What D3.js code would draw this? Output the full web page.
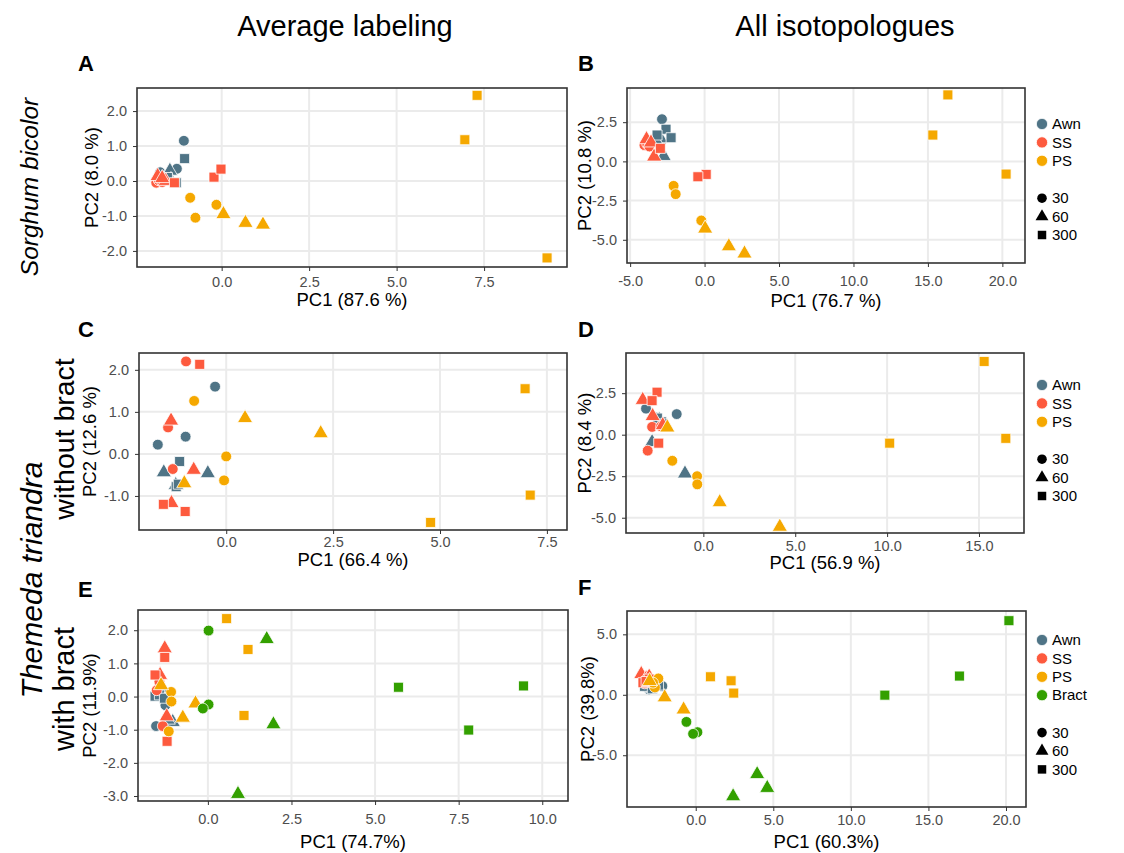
<!DOCTYPE html>
<html>
<head>
<meta charset="utf-8">
<script src="https://cdn.jsdelivr.net/npm/d3@7"></script>
<style>
  body { margin: 0; background: #fff; }
  text { font-family: "Liberation Sans", Arial, sans-serif; }
</style>
</head>
<body>
<div id="chart"></div>
<script>
const W = 1124;
const H = 853;

const tissues = ["Awn", "SS", "PS", "Bract"];
const tissueColors = ["#4f7486", "#fd5a3e", "#f5a800", "#33a000"];
const times = [30, 60, 300];

// [tissue, time, PC1, PC2]
const pointsA = [
  ["Awn", 30, -1.08, 1.15], ["Awn", 30, -1.28, 0.35], ["Awn", 30, -1.76, 0.25],
  ["Awn", 60, -1.48, 0.29], ["Awn", 60, -1.65, 0.05], ["Awn", 60, -1.45, 0.02],
  ["Awn", 300, -1.06, 0.64], ["Awn", 300, -1.3, -0.05], ["Awn", 300, -1.55, 0.1],
  ["SS", 30, -1.87, -0.05], ["SS", 30, -1.8, 0.02], ["SS", 30, -1.7, -0.03],
  ["SS", 60, -1.83, 0.14], ["SS", 60, -1.6, 0.0], ["SS", 60, -1.7, 0.08],
  ["SS", 300, -0.22, 0.11], ["SS", 300, -0.02, 0.34], ["SS", 300, -1.35, -0.05],
  ["PS", 30, -0.9, -0.48], ["PS", 30, -0.75, -1.05], ["PS", 30, -0.15, -0.68],
  ["PS", 60, 0.05, -0.95], ["PS", 60, 0.68, -1.2], ["PS", 60, 1.18, -1.25],
  ["PS", 300, 6.95, 1.18], ["PS", 300, 7.3, 2.45], ["PS", 300, 9.3, -2.2]
];

const pointsB = [
  ["Awn", 30, -2.86, 2.69], ["Awn", 30, -3.1, 1.5], ["Awn", 30, -2.9, 1.3],
  ["Awn", 60, -2.75, 0.34], ["Awn", 60, -2.97, 1.47], ["Awn", 60, -3.2, 1.2],
  ["Awn", 300, -2.59, 2.05], ["Awn", 300, -2.25, 1.51], ["Awn", 300, -3.19, 1.68],
  ["SS", 30, -4.04, 1.04], ["SS", 30, -3.85, 1.1], ["SS", 30, -3.7, 0.95],
  ["SS", 60, -3.39, 0.3], ["SS", 60, -3.9, 1.41], ["SS", 60, -3.6, 1.2],
  ["SS", 300, 0.11, -0.83], ["SS", 300, -0.45, -0.98], ["SS", 300, -2.97, 0.83],
  ["PS", 30, -2.08, -1.56], ["PS", 30, -1.94, -2.09], ["PS", 30, -0.22, -3.77],
  ["PS", 60, 0.04, -4.29], ["PS", 60, 1.63, -5.42], ["PS", 60, 2.68, -5.88],
  ["PS", 300, 16.34, 4.24], ["PS", 300, 15.33, 1.68], ["PS", 300, 20.25, -0.81]
];

const pointsC = [
  ["Awn", 30, -0.26, 1.6], ["Awn", 30, -0.95, 0.41], ["Awn", 30, -1.6, 0.22],
  ["Awn", 60, -1.46, -0.44], ["Awn", 60, -0.43, -0.46], ["Awn", 60, -1.18, -0.74],
  ["Awn", 300, -1.09, -0.18], ["Awn", 300, -1.17, -0.78], ["Awn", 300, -1.12, -0.72],
  ["SS", 30, -0.94, 2.2], ["SS", 30, -1.36, 0.63], ["SS", 30, -1.25, -0.36],
  ["SS", 60, -1.29, 0.79], ["SS", 60, -0.76, -0.38], ["SS", 60, -1.28, -1.17],
  ["SS", 300, -0.62, 2.13], ["SS", 300, -1.47, -1.2], ["SS", 300, -0.96, -1.37],
  ["PS", 30, -0.75, 1.26], ["PS", 30, 0.0, -0.06], ["PS", 30, -0.05, -0.63],
  ["PS", 60, 0.44, 0.85], ["PS", 60, 2.21, 0.49], ["PS", 60, -0.98, -0.7],
  ["PS", 300, 6.99, 1.55], ["PS", 300, 7.11, -0.98], ["PS", 300, 4.78, -1.63]
];

const pointsD = [
  ["Awn", 30, -3.12, 1.57], ["Awn", 30, -1.45, 1.24], ["Awn", 30, -2.58, 1.04],
  ["Awn", 60, -1.0, -2.34], ["Awn", 60, -2.79, -0.45], ["Awn", 60, -2.4, 0.9],
  ["Awn", 300, -2.27, 0.77], ["Awn", 300, -2.5, 1.0], ["Awn", 300, -2.2, 0.65],
  ["SS", 30, -2.79, 0.47], ["SS", 30, -3.03, -0.96], ["SS", 30, -2.3, 0.5],
  ["SS", 60, -3.3, 2.09], ["SS", 60, -2.76, 1.12], ["SS", 60, -2.21, 0.57],
  ["SS", 300, -2.52, 2.56], ["SS", 300, -2.79, 2.05], ["SS", 300, -2.43, -0.51],
  ["PS", 30, -1.69, -1.57], ["PS", 30, -0.34, -2.5], ["PS", 30, -0.33, -2.99],
  ["PS", 60, 4.16, -5.55], ["PS", 60, 0.89, -4.07], ["PS", 60, -1.96, 0.43],
  ["PS", 300, 15.28, 4.41], ["PS", 300, 16.46, -0.22], ["PS", 300, 10.14, -0.51]
];

const pointsE = [
  ["Awn", 30, -1.55, -0.89], ["Awn", 30, -1.27, -0.26], ["Awn", 30, -1.5, 0.1],
  ["Awn", 60, -1.05, -0.77], ["Awn", 60, -1.4, 0.25], ["Awn", 60, -1.2, -0.7],
  ["Awn", 300, -1.58, 0.01], ["Awn", 300, -1.45, 0.05], ["Awn", 300, -1.3, -0.05],
  ["SS", 30, -1.35, -0.89], ["SS", 30, -1.53, 0.19], ["SS", 30, -1.45, 0.45],
  ["SS", 60, -1.29, 1.45], ["SS", 60, -1.43, 0.65], ["SS", 60, -1.23, -0.6],
  ["SS", 300, -1.29, 1.18], ["SS", 300, -1.58, 0.65], ["SS", 300, -1.22, -1.35],
  ["PS", 30, -1.1, 0.14], ["PS", 30, -1.09, -0.15], ["PS", 30, -1.17, -1.05],
  ["PS", 60, -0.37, -0.21], ["PS", 60, -0.75, -0.64], ["PS", 60, -1.4, 0.34],
  ["PS", 300, 0.56, 2.35], ["PS", 300, 1.2, 1.42], ["PS", 300, 1.08, -0.57],
  ["Bract", 30, 0.02, 1.99], ["Bract", 30, 0.02, -0.24], ["Bract", 30, -0.15, -0.36],
  ["Bract", 60, 1.76, 1.73], ["Bract", 60, 1.96, -0.84], ["Bract", 60, 0.9, -2.94],
  ["Bract", 300, 5.7, 0.28], ["Bract", 300, 9.44, 0.32], ["Bract", 300, 7.8, -1.01]
];

const pointsF = [
  ["Awn", 30, -2.15, 0.72], ["Awn", 30, -3.01, 0.44], ["Awn", 30, -3.23, 0.66],
  ["Awn", 60, -3.1, 0.8], ["Awn", 60, -2.6, 0.9], ["Awn", 60, -2.9, 0.6],
  ["Awn", 300, -3.3, 0.7], ["Awn", 300, -2.4, 0.8], ["Awn", 300, -2.8, 0.5],
  ["SS", 30, -3.29, 0.94], ["SS", 30, -3.1, 1.2], ["SS", 30, -2.9, 1.0],
  ["SS", 60, -3.51, 1.71], ["SS", 60, -3.19, 1.35], ["SS", 60, -3.0, 1.5],
  ["SS", 300, -3.4, 1.0], ["SS", 300, -3.0, 1.3], ["SS", 300, -3.2, 1.1],
  ["PS", 30, -2.41, 1.35], ["PS", 30, -2.63, 0.61], ["PS", 30, -2.75, 1.0],
  ["PS", 60, -2.0, -0.22], ["PS", 60, -0.78, -1.22], ["PS", 60, -2.97, 1.13],
  ["PS", 300, 0.95, 1.49], ["PS", 300, 2.28, 1.16], ["PS", 300, 2.45, 0.14],
  ["Bract", 30, -0.6, -2.24], ["Bract", 30, 0.11, -3.09], ["Bract", 30, -0.17, -3.23],
  ["Bract", 60, 3.96, -6.57], ["Bract", 60, 4.61, -7.71], ["Bract", 60, 2.41, -8.4],
  ["Bract", 300, 20.19, 6.13], ["Bract", 300, 17.0, 1.55], ["Bract", 300, 12.19, -0.03]
];

const xTicksA = [0, 2.5, 5, 7.5], yTicksA = [-2, -1, 0, 1, 2];
const xTicksB = [-5, 0, 5, 10, 15, 20], yTicksB = [-5, -2.5, 0, 2.5];
const xTicksC = [0, 2.5, 5, 7.5], yTicksC = [-1, 0, 1, 2];
const xTicksD = [0, 5, 10, 15], yTicksD = [-5, -2.5, 0, 2.5];
const xTicksE = [0, 2.5, 5, 7.5, 10], yTicksE = [-3, -2, -1, 0, 1, 2];
const xTicksF = [0, 5, 10, 15, 20], yTicksF = [-5, 0, 5];

const panels = [
  { id: "A", pts: pointsA, x: 137, y: 88, w: 430, h: 179, xd: [-2.42, 9.87], yd: [-2.46, 2.66],
    xt: xTicksA, yt: yTicksA, xl: "PC1 (87.6 %)", yl: "PC2 (8.0 %)", tickDy: 20, titleY: 306, ylx: 92, lx: 78, ly: 71 },
  { id: "B", pts: pointsB, x: 627, y: 88, w: 398, h: 175, xd: [-5.21, 21.52], yd: [-6.48, 4.68],
    xt: xTicksB, yt: yTicksB, xl: "PC1 (76.7 %)", yl: "PC2 (10.8 %)", tickDy: 23, titleY: 307, ylx: 585, lx: 578, ly: 71, legend: 124 },
  { id: "C", pts: pointsC, x: 139, y: 353, w: 428, h: 177, xd: [-2.04, 7.97], yd: [-1.81, 2.4],
    xt: xTicksC, yt: yTicksC, xl: "PC1 (66.4 %)", yl: "PC2 (12.6 %)", tickDy: 17, titleY: 566, ylx: 90, lx: 78, ly: 337 },
  { id: "D", pts: pointsD, x: 626, y: 353, w: 398, h: 180, xd: [-4.21, 17.45], yd: [-5.92, 4.92],
    xt: xTicksD, yt: yTicksD, xl: "PC1 (56.9 %)", yl: "PC2 (8.4 %)", tickDy: 18, titleY: 569, ylx: 585, lx: 578, ly: 337, legend: 385 },
  { id: "E", pts: pointsE, x: 138, y: 610, w: 430, h: 191, xd: [-2.09, 10.77], yd: [-3.15, 2.61],
    xt: xTicksE, yt: yTicksE, xl: "PC1 (74.7%)", yl: "PC2 (11.9%)", tickDy: 23, titleY: 848, ylx: 90, lx: 78, ly: 597 },
  { id: "F", pts: pointsF, x: 627, y: 611, w: 399, h: 196, xd: [-4.43, 21.29], yd: [-9.28, 6.93],
    xt: xTicksF, yt: yTicksF, xl: "PC1 (60.3%)", yl: "PC2 (39.8%)", tickDy: 18, titleY: 848, ylx: 588, lx: 578, ly: 595, legend: 640 }
];

const color = d3.scaleOrdinal().domain(tissues).range(tissueColors);
const shape = d3.scaleOrdinal().domain(times).range([d3.symbolCircle, d3.symbolTriangle, d3.symbolSquare]);
const shapeSize = d3.scaleOrdinal().domain(times).range([92, 100, 100]);
const fmt = d => d.toFixed(1);

const svg = d3.select("#chart").append("svg")
  .attr("width", W)
  .attr("height", H)
  .style("background", "#fff");

// column titles
svg.append("text").attr("x", 345).attr("y", 36).attr("text-anchor", "middle")
  .attr("font-size", 29).text("Average labeling");
svg.append("text").attr("x", 845).attr("y", 36).attr("text-anchor", "middle")
  .attr("font-size", 29).text("All isotopologues");

// row labels
let rowLabel = (x, y, txt, italic, size) => {
  svg.append("text")
    .attr("transform", `translate(${x},${y}) rotate(-90)`)
    .attr("text-anchor", "middle")
    .attr("font-size", size)
    .attr("font-style", italic ? "italic" : "normal")
    .text(txt);
};
rowLabel(38, 187, "Sorghum bicolor", true, 24.5);
rowLabel(42, 580, "Themeda triandra", true, 30);
rowLabel(74, 439, "without bract", false, 28.5);
rowLabel(74, 689, "with bract", false, 29);

panels.forEach(p => {
  let x = d3.scaleLinear().domain(p.xd).range([p.x, p.x + p.w]);
  let y = d3.scaleLinear().domain(p.yd).range([p.y + p.h, p.y]);
  let g = svg.append("g");

  // grid
  g.selectAll(".gx").data(p.xt).enter().append("line")
    .attr("x1", d => x(d)).attr("x2", d => x(d))
    .attr("y1", p.y).attr("y2", p.y + p.h)
    .attr("stroke", "#ebebeb").attr("stroke-width", 2);
  g.selectAll(".gy").data(p.yt).enter().append("line")
    .attr("x1", p.x).attr("x2", p.x + p.w)
    .attr("y1", d => y(d)).attr("y2", d => y(d))
    .attr("stroke", "#ebebeb").attr("stroke-width", 2);

  // axes
  let xAxis = d3.axisBottom(x).tickValues(p.xt).tickFormat(fmt).tickSize(4).tickPadding(4);
  let yAxis = d3.axisLeft(y).tickValues(p.yt).tickFormat(fmt).tickSize(4).tickPadding(6);
  let gx = g.append("g").attr("transform", `translate(0,${p.y + p.h})`).call(xAxis);
  let gy = g.append("g").attr("transform", `translate(${p.x},0)`).call(yAxis);
  [gx, gy].forEach(a => {
    a.select(".domain").remove();
    a.selectAll("line").attr("stroke", "#333");
    a.selectAll("text").attr("fill", "#4d4d4d").attr("font-size", 14.5)
      .attr("font-family", "Liberation Sans, Arial, sans-serif");
  });
  gx.selectAll("text").attr("dy", null).attr("y", p.tickDy);

  // points
  g.selectAll(".pt").data(p.pts).enter().append("path")
    .attr("transform", d => `translate(${x(d[2])},${y(d[3])})`)
    .attr("d", d => d3.symbol().type(shape(d[1])).size(shapeSize(d[1]))())
    .attr("fill", d => color(d[0]))
    .attr("stroke", "#fff")
    .attr("stroke-width", 0.8);

  // border
  g.append("rect").attr("x", p.x).attr("y", p.y).attr("width", p.w).attr("height", p.h)
    .attr("fill", "none").attr("stroke", "#333").attr("stroke-width", 1.6);

  // axis titles
  g.append("text").attr("x", p.x + p.w / 2).attr("y", p.titleY).attr("text-anchor", "middle")
    .attr("font-size", 18.5).text(p.xl);
  g.append("text")
    .attr("transform", `translate(${p.ylx},${p.y + p.h / 2}) rotate(-90)`)
    .attr("text-anchor", "middle").attr("dy", "0.35em")
    .attr("font-size", 18.5).text(p.yl);

  // panel letter
  g.append("text").attr("x", p.lx).attr("y", p.ly).attr("font-size", 22)
    .attr("font-weight", "bold").text(p.id);

  // legend
  if (p.legend) {
    let used = tissues.filter(t => p.pts.some(d => d[0] == t));
    let lg = svg.append("g");
    let step = 18.4;
    used.forEach((t, i) => {
      lg.append("path")
        .attr("transform", `translate(1042,${p.legend + i * step})`)
        .attr("d", d3.symbol().type(d3.symbolCircle).size(100)())
        .attr("fill", color(t)).attr("stroke", "#fff").attr("stroke-width", 0.8);
      lg.append("text").attr("x", 1052).attr("y", p.legend + i * step).attr("dy", "0.35em")
        .attr("font-size", 15).text(t);
    });
    let top2 = p.legend + used.length * step + 19;
    times.forEach((t, i) => {
      lg.append("path")
        .attr("transform", `translate(1042,${top2 + i * step})`)
        .attr("d", d3.symbol().type(shape(t)).size(72)())
        .attr("fill", "#000");
      lg.append("text").attr("x", 1052).attr("y", top2 + i * step).attr("dy", "0.35em")
        .attr("font-size", 15).text(t);
    });
  }
});
</script>
</body>
</html>
